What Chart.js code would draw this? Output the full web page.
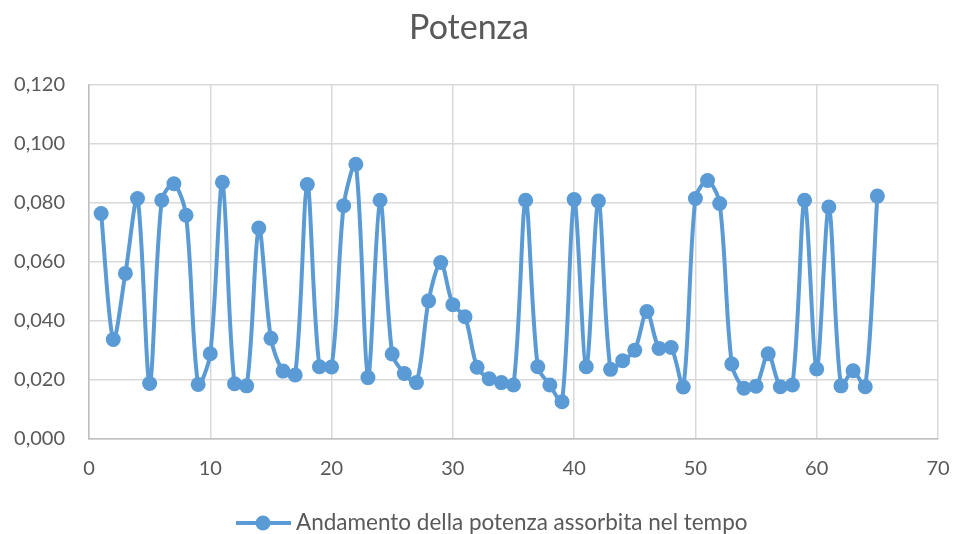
<!DOCTYPE html>
<html>
<head>
<meta charset="utf-8">
<script src="https://cdn.jsdelivr.net/npm/chart.js@4/dist/chart.umd.min.js"></script>
<style>
  html, body { margin: 0; padding: 0; background: #ffffff; }
  #wrap { width: 954px; height: 534px; }
</style>
</head>
<body>
<div id="wrap"><canvas id="c" width="954" height="534"></canvas></div>
<script>
// Istanti di misura (asse x)
const tempo = [
  1, 2, 3, 4, 5, 6, 7, 8, 9, 10,
  11, 12, 13, 14, 15, 16, 17, 18, 19, 20,
  21, 22, 23, 24, 25, 26, 27, 28, 29, 30,
  31, 32, 33, 34, 35, 36, 37, 38, 39, 40,
  41, 42, 43, 44, 45, 46, 47, 48, 49, 50,
  51, 52, 53, 54, 55, 56, 57, 58, 59, 60,
  61, 62, 63, 64, 65
];

// Potenza assorbita misurata a ogni istante
const potenza = [
  0.0764, 0.0337, 0.0561, 0.0815, 0.0188, 0.0809, 0.0865, 0.0758, 0.0185, 0.0289,
  0.0870, 0.0187, 0.0180, 0.0715, 0.0341, 0.0230, 0.0217, 0.0862, 0.0245, 0.0244,
  0.0790, 0.0931, 0.0208, 0.0809, 0.0288, 0.0222, 0.0191, 0.0468, 0.0598, 0.0455,
  0.0414, 0.0243, 0.0204, 0.0191, 0.0183, 0.0809, 0.0245, 0.0183, 0.0126, 0.0811,
  0.0245, 0.0806, 0.0236, 0.0265, 0.0301, 0.0432, 0.0307, 0.0310, 0.0176, 0.0815,
  0.0876, 0.0798, 0.0254, 0.0172, 0.0179, 0.0289, 0.0177, 0.0183, 0.0809, 0.0237,
  0.0786, 0.0180, 0.0231, 0.0177, 0.0823
];

const titolo = 'Potenza';
const nomeSerie = 'Andamento della potenza assorbita nel tempo';

const BLU = '#5B9BD5';
const GRIGIO_TESTO = '#595959';
const FONT = 'Lato, "Open Sans", sans-serif';

// Legenda in basso: tratto con pallino seguito dal nome della serie
const legendaSerie = {
  id: 'legendaSerie',
  afterDraw(chart) {
    const ctx = chart.ctx;
    const ds = chart.data.datasets[0];
    const y = 523;
    ctx.save();
    ctx.strokeStyle = ds.borderColor;
    ctx.lineWidth = 4;
    ctx.beginPath();
    ctx.moveTo(236, y);
    ctx.lineTo(291, y);
    ctx.stroke();
    ctx.fillStyle = ds.backgroundColor;
    ctx.beginPath();
    ctx.arc(263, y, 7.5, 0, Math.PI * 2);
    ctx.fill();
    ctx.fillStyle = GRIGIO_TESTO;
    ctx.font = '22.5px ' + FONT;
    ctx.textBaseline = 'middle';
    ctx.textAlign = 'left';
    ctx.fillText(ds.label, 296, y);
    ctx.restore();
  }
};

const punti = tempo.map((t, i) => ({ x: t, y: potenza[i] }));

new Chart(document.getElementById('c'), {
  type: 'line',
  data: {
    datasets: [{
      label: nomeSerie,
      data: punti,
      borderColor: BLU,
      backgroundColor: BLU,
      borderWidth: 4,
      pointRadius: 7.5,
      pointHoverRadius: 7.5,
      pointBackgroundColor: BLU,
      pointBorderColor: BLU,
      pointBorderWidth: 0,
      tension: 0.3,
      fill: false
    }]
  },
  plugins: [legendaSerie],
  options: {
    responsive: false,
    animation: false,
    layout: { padding: { left: 0, right: 16, top: 0, bottom: 40 } },
    plugins: {
      title: {
        display: true,
        text: titolo,
        color: GRIGIO_TESTO,
        font: { family: FONT, size: 34, weight: 'normal' },
        padding: { top: 8, bottom: 36 }
      },
      legend: { display: false },
      tooltip: { enabled: false }
    },
    scales: {
      x: {
        type: 'linear',
        min: 0,
        max: 70,
        ticks: {
          stepSize: 10,
          color: GRIGIO_TESTO,
          font: { family: FONT, size: 20, lineHeight: '52px' },
          padding: 4,
          maxRotation: 0
        },
        grid: { color: '#D9D9D9', lineWidth: 1.5, drawTicks: false },
        border: { color: '#BFBFBF', width: 1.5 },
        afterFit: s => { s.height = 55; }
      },
      y: {
        min: 0,
        max: 0.12,
        ticks: {
          stepSize: 0.02,
          color: GRIGIO_TESTO,
          font: { family: FONT, size: 20 },
          padding: 24,
          callback: v => v.toFixed(3).replace('.', ',')
        },
        grid: { color: '#D9D9D9', lineWidth: 1.5, drawTicks: false },
        border: { color: '#BFBFBF', width: 1.5 },
        afterFit: s => { s.width = 89; }
      }
    }
  }
});
</script>
</body>
</html>
